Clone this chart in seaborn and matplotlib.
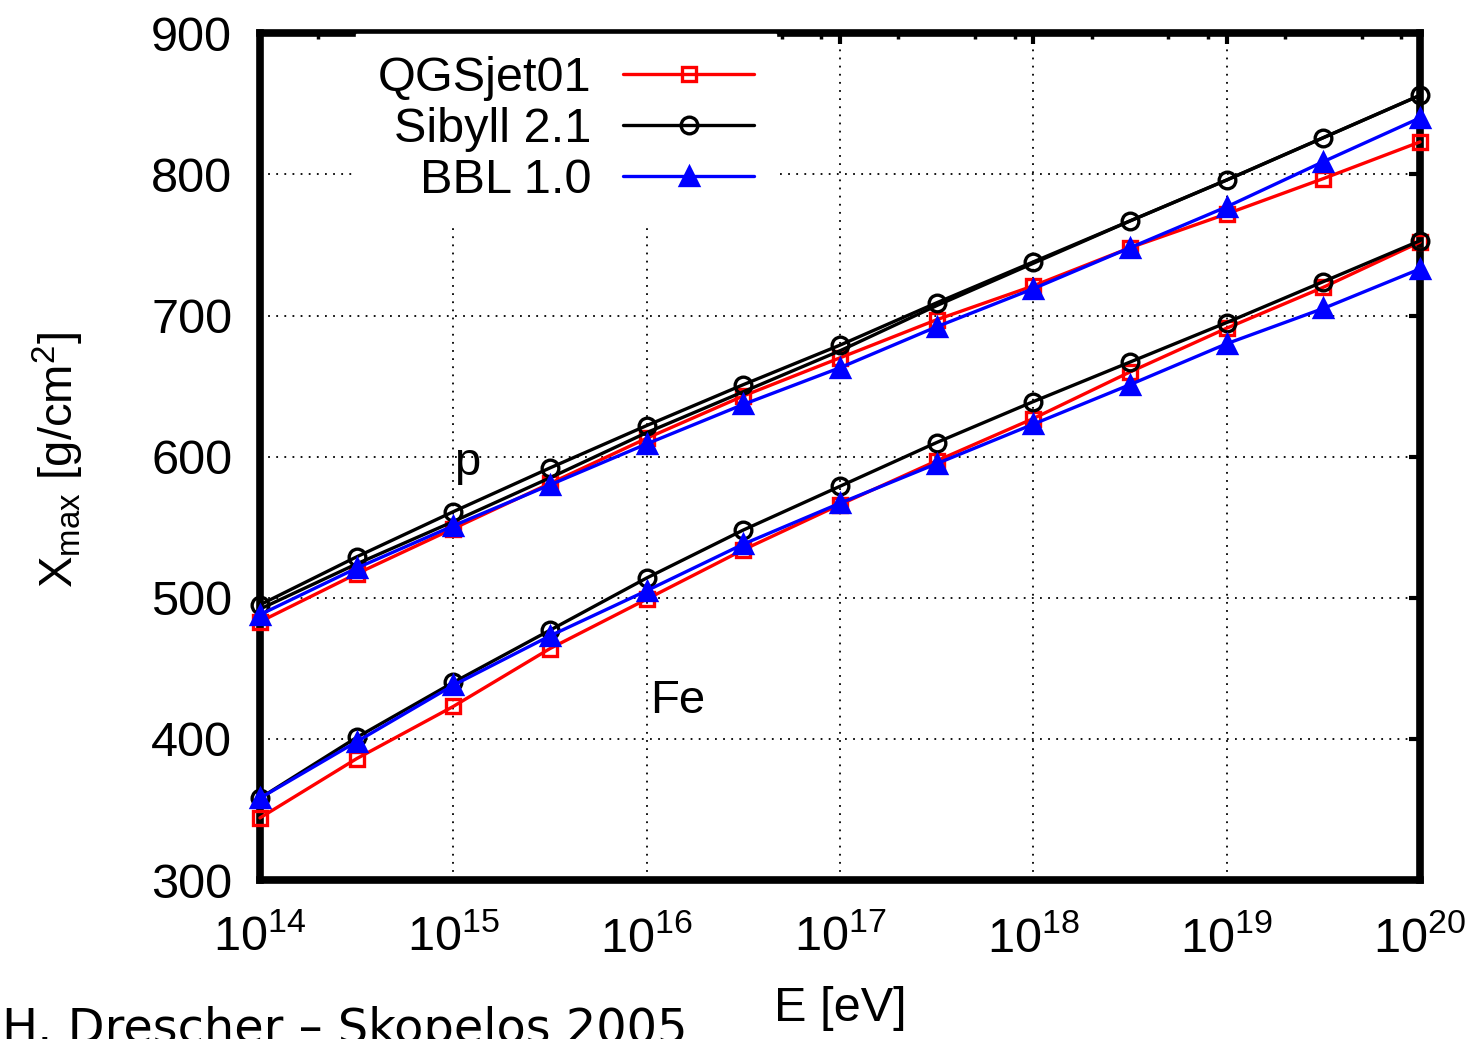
import matplotlib
matplotlib.use("Agg")
import matplotlib.pyplot as plt
import seaborn as sns
from matplotlib.ticker import LogLocator, LogFormatterMathtext, NullFormatter, FixedLocator

# ---- data ----
log10_energy = [14.0, 14.5, 15.0, 15.5, 16.0, 16.5, 17.0, 17.5, 18.0, 18.5, 19.0, 19.5, 20.0]

# proton
p_qgsjet01 = [483, 517, 549, 581, 613, 643, 670, 697, 721, 748, 772, 797, 823]
p_sibyll21 = [495, 529, 561, 592, 622, 651, 679, 709, 738, 767, 796, 826, 856]
p_sibyll21_b = [492, 524, 554, 585, 617, 646, 675, 707, 737, 767, 796, 826, 856]
p_bbl10 = [488, 521, 551, 580, 609, 637, 663, 692, 719, 748, 777, 809, 840]

# iron
fe_qgsjet01 = [344, 386, 423, 464, 499, 534, 566, 597, 627, 660, 691, 720, 752]
fe_sibyll21 = [358, 401, 440, 477, 514, 548, 579, 610, 639, 667, 695, 724, 753]
fe_bbl10 = [358, 398, 438, 473, 505, 538, 567, 595, 623, 651, 680, 705, 733]

legend_labels = ["QGSjet01", "Sibyll 2.1", "BBL 1.0"]
x_ticks = [1e14, 1e15, 1e16, 1e17, 1e18, 1e19, 1e20]
y_ticks = [300, 400, 500, 600, 700, 800, 900]

energy = [10 ** e for e in log10_energy]

# ---- style ----
sns.set_theme(style="white")
plt.rcParams["font.family"] = ["Liberation Sans", "DejaVu Sans"]
plt.rcParams["mathtext.fontset"] = "custom"
plt.rcParams["mathtext.rm"] = "Liberation Sans"
plt.rcParams["mathtext.it"] = "Liberation Sans:italic"
plt.rcParams["mathtext.bf"] = "Liberation Sans:bold"

RED, BLACK, BLUE = "#ff0000", "#000000", "#0000ff"
LW = 2.4

fig = plt.figure(figsize=(14.77, 10.39), dpi=100)
ax = fig.add_axes([0.176, 0.153, 0.7854, 0.815])

def draw(y, color, marker, mfc, ms, label):
    sns.lineplot(x=energy, y=y, ax=ax, color=color, linewidth=LW,
                 marker=marker if marker else None,
                 markersize=ms, markerfacecolor=mfc, markeredgecolor=color,
                 markeredgewidth=2.4, clip_on=False, zorder=3,
                 label=label, legend=False)

draw(p_qgsjet01, RED, "s", "none", 10, legend_labels[0])
draw(p_sibyll21_b, BLACK, None, "none", 0, "_nolegend_")
draw(p_sibyll21, BLACK, "o", "none", 12, legend_labels[1])
draw(p_bbl10, BLUE, "^", BLUE, 13, legend_labels[2])

draw(fe_qgsjet01, RED, "s", "none", 10, "_nolegend_")
draw(fe_sibyll21, BLACK, "o", "none", 12, "_nolegend_")
draw(fe_bbl10, BLUE, "^", BLUE, 13, "_nolegend_")

ax.set_xscale("log")
ax.set_xlim(1e14, 1e20)
ax.set_ylim(300, 900)
ax.xaxis.set_major_locator(FixedLocator(x_ticks))
ax.xaxis.set_major_formatter(LogFormatterMathtext())
ax.xaxis.set_minor_locator(LogLocator(base=10, subs=(2, 5, 8), numticks=30))
ax.xaxis.set_minor_formatter(NullFormatter())
ax.set_yticks(y_ticks)

ax.tick_params(which="major", direction="in", length=8, width=3, top=True, right=True,
               labelsize=35, color="black", labelcolor="black")
ax.tick_params(axis="y", which="major", pad=20)
ax.tick_params(axis="x", which="major", pad=26)
ax.tick_params(which="minor", direction="in", length=4, width=2.5, top=True, right=True,
               color="black")

for s in ax.spines.values():
    s.set_linewidth(5.5)
    s.set_color("black")
    s.set_visible(True)

ax.grid(True, which="major", color="black", linestyle=(0, (1, 3.5)), linewidth=1.3)
ax.grid(False, which="minor")
ax.set_axisbelow(True)

ax.set_xlabel("E [eV]", fontsize=35, color="black")
ax.xaxis.set_label_coords(0.5, -0.125)
ax.set_ylabel(r"X$_{\mathregular{max}}$ [g/cm$^{\mathregular{2}}$]", fontsize=34, color="black")
ax.yaxis.set_label_coords(-0.15, 0.496)

# legend
h, l = ax.get_legend_handles_labels()
leg = ax.legend(h, l, markerfirst=False, loc="upper right",
                bbox_to_anchor=(0.445, 0.999), fontsize=35, handlelength=2.7,
                handletextpad=0.65, labelspacing=0.12, borderpad=0.45,
                borderaxespad=0, frameon=True, fancybox=False, framealpha=1,
                facecolor="white", edgecolor="white", numpoints=1)
leg.set_zorder(4)
for t in leg.get_texts():
    t.set_color("black")

ax.text(10 ** 15.07, 587, "p", fontsize=34, ha="center", va="baseline", color="black")
ax.text(10 ** 16.16, 418, "Fe", fontsize=34, ha="center", va="baseline", color="black")

fig.text(0.0015, -0.004, "H. Drescher – Skopelos 2005", fontsize=34.5,
         family="DejaVu Sans", ha="left", va="baseline", color="black")

fig.savefig("out.png", dpi=100, facecolor="white")
